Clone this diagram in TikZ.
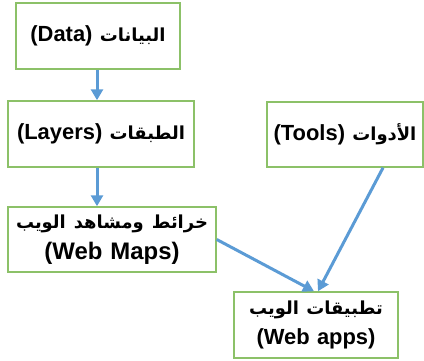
\documentclass[tikz,border=0pt]{standalone}
\usepackage{fontspec}
\setmainfont{Liberation Sans}
\newfontfamily\arabicfont[Script=Arabic]{DejaVu Sans}
\TeXXeTstate=1
\usetikzlibrary{arrows.meta}
\definecolor{boxgreen}{RGB}{140,193,104}
\definecolor{flowblue}{RGB}{91,155,213}
\newcommand{\ar}[1]{{\arabicfont\bfseries\fontsize{18}{30}\selectfont\beginR #1\endR}}
\begin{document}
\begin{tikzpicture}[x=1bp,y=-1bp,
  box/.style={draw=boxgreen, line width=1.5bp, fill=white, align=center,
    inner sep=0pt, font=\bfseries\fontsize{22}{30}\selectfont},
  flow/.style={draw=flowblue, line width=3bp,
    -{Triangle[length=11bp,width=12bp]}}]
\useasboundingbox (0,0) rectangle (424,361);

\node[box, text width=164bp, minimum height=66bp] (data) at (98,36)
  {(Data) \ar{البيانات}};
\node[box, text width=186bp, minimum height=66bp] (layers) at (101,134)
  {(Layers) \ar{الطبقات}};
\node[box, text width=156bp, minimum height=65bp] (tools) at (345,134.5)
  {(Tools) \ar{الأدوات}};
\node[box, text width=208bp, minimum height=65bp,
  font=\bfseries\fontsize{24}{31}\selectfont] (maps) at (112,239.5)
  {\ar{خرائط ومشاهد الويب}\\(Web Maps)};
\node[box, text width=164bp, minimum height=66bp] (apps) at (316,325)
  {\ar{تطبيقات الويب}\\(Web apps)};

\draw[flow] ([xshift=-1bp]data.south) -- ([xshift=-1bp]data.south |- layers.north);
\draw[flow] ([xshift=-1bp]data.south |- layers.south) -- ([xshift=-1bp]data.south |- maps.north);
\draw[flow] (maps.east) -- ([xshift=-2bp]apps.north);
\draw[flow] ([xshift=38bp]tools.south) -- ([xshift=2bp]apps.north);
\end{tikzpicture}
\end{document}
